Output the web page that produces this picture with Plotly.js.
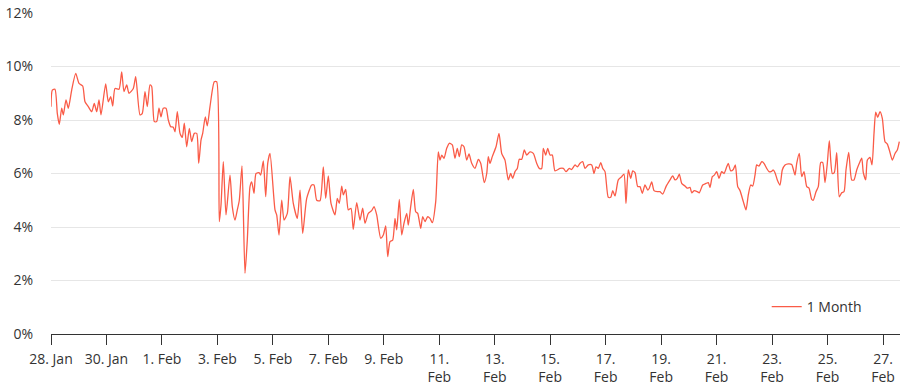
<!DOCTYPE html>
<html>
<head>
<meta charset="utf-8">
<script src="https://cdn.plot.ly/plotly-3.0.1.min.js"></script>
<style>
html,body{margin:0;padding:0;background:#fff;}
#chart{width:904px;height:388px;}
</style>
</head>
<body>
<div id="chart"></div>
<script>
// Days since 28 Jan 00:00
const dayOffset = [
0,0.047,0.144,0.227,0.299,0.386,0.444,0.541,0.624,0.746,0.891,1.010,1.143,1.226,1.345,1.468,1.561,1.648,1.731,1.803,
1.972,2.066,2.153,2.225,2.308,2.452,2.549,2.632,2.730,2.813,2.968,3.054,3.209,3.292,3.389,3.472,3.570,3.631,3.725,3.811,
3.894,3.966,4.049,4.147,4.230,4.316,4.410,4.471,4.554,4.652,4.734,4.807,4.893,4.987,5.073,5.167,5.254,5.326,5.409,5.470,
5.564,5.636,5.733,5.888,5.975,6.069,6.130,6.213,6.310,6.454,6.537,6.635,6.718,6.790,6.887,6.995,7.078,7.176,7.237,7.320,
7.392,7.500,7.561,7.655,7.742,7.814,7.897,8.077,8.138,8.221,8.319,8.402,8.521,8.618,8.737,8.881,8.979,9.076,9.220,9.400,
9.483,9.581,9.700,9.819,9.905,9.999,10.096,10.240,10.323,10.395,10.482,10.540,10.626,10.720,10.817,10.900,11.023,11.142,11.239,11.322,
11.441,11.564,11.647,11.744,11.888,11.982,12.069,12.141,12.224,12.321,12.404,12.465,12.559,12.646,12.728,12.826,12.884,12.970,13.064,13.150,
13.223,13.331,13.403,13.486,13.583,13.666,13.749,13.872,13.965,14.027,14.088,14.171,14.268,14.362,14.470,14.567,14.650,14.723,14.809,14.892,
14.989,15.072,15.170,15.289,15.408,15.494,15.624,15.711,15.768,15.829,15.912,16.046,16.154,16.251,16.370,16.489,16.576,16.648,16.731,16.814,
16.886,16.973,17.066,17.153,17.272,17.391,17.513,17.607,17.694,17.751,17.838,17.910,17.993,18.076,18.173,18.354,18.473,18.570,18.689,18.776,
18.895,18.978,19.075,19.172,19.255,19.374,19.497,19.580,19.652,19.735,19.822,19.894,19.976,20.095,20.182,20.254,20.337,20.456,20.578,20.661,
20.733,20.816,20.903,20.975,21.058,21.155,21.238,21.321,21.418,21.516,21.573,21.660,21.743,21.862,21.959,22.057,22.176,22.320,22.417,22.500,
22.583,22.655,22.742,22.861,22.944,23.041,23.102,23.196,23.304,23.376,23.499,23.618,23.701,23.762,23.845,23.917,24.004,24.087,24.184,24.267,
24.364,24.422,24.509,24.602,24.675,24.761,24.844,24.963,25.060,25.143,25.230,25.302,25.385,25.446,25.529,25.627,25.709,25.807,25.890,25.962,
26.045,26.106,26.189,26.286,26.369,26.467,26.586,26.708,26.827,26.889,26.982,27.069,27.152,27.249,27.332,27.429,27.487,27.584,27.667,27.754,
27.826,27.909,27.992,28.064,28.172,28.244,28.331,28.425,28.511,28.594,28.666,28.764,28.872,28.955,29.052,29.146,29.233,29.290,29.377,29.435,
29.532,29.604,29.676,29.737,29.809,29.892,29.975,30.072,30.156,30.228,30.336,30.433,30.516,30.588
];
// 1 Month values (%)
const oneMonth = [
8.50,9.12,9.15,8.25,7.84,8.44,8.19,8.75,8.44,9.12,9.74,9.37,9.27,8.68,8.50,8.31,8.62,8.31,8.75,8.19,
9.35,8.68,8.87,8.52,9.18,9.15,9.80,9.06,9.31,9.00,9.18,9.62,8.19,8.25,9.06,8.50,9.31,9.25,7.94,7.94,
8.44,8.12,8.44,8.44,8.00,7.75,7.73,7.56,8.31,7.50,7.35,7.88,7.00,7.69,7.19,7.50,7.50,6.38,7.25,7.50,
8.12,7.78,8.50,9.43,9.43,4.20,4.82,6.44,4.45,5.94,4.76,4.26,4.64,5.00,6.28,2.27,3.51,5.51,5.69,5.26,
6.00,6.03,5.94,6.47,5.13,6.38,6.75,4.64,4.45,3.70,5.00,4.26,4.51,5.88,4.88,4.32,5.38,3.76,5.07,5.57,
5.57,5.00,4.98,6.25,5.07,5.91,4.88,4.45,5.07,4.88,5.53,5.20,5.41,4.64,4.70,3.91,4.91,4.26,4.70,4.14,
4.51,4.61,4.76,4.45,3.58,3.70,4.04,2.89,3.45,3.51,4.32,3.89,5.03,3.70,4.14,4.51,4.07,4.76,5.41,4.57,
4.51,3.95,4.39,4.20,4.39,4.32,4.16,4.95,6.81,6.50,6.69,6.57,6.94,7.13,7.07,6.57,6.94,6.63,7.07,7.00,
6.50,6.73,6.38,6.19,6.53,6.38,5.66,6.00,6.63,6.38,6.63,7.00,7.50,6.75,6.50,5.76,6.00,5.82,6.07,6.19,
6.53,6.53,6.88,6.69,6.81,6.75,6.38,6.19,6.19,6.94,6.69,6.94,6.69,6.69,6.10,6.19,6.19,6.07,6.19,6.15,
6.32,6.25,6.38,6.44,6.19,6.32,6.32,6.00,6.25,6.19,6.41,6.19,6.07,5.11,5.11,5.36,5.16,5.76,5.88,5.98,
4.88,6.13,5.82,6.10,6.03,5.51,5.51,5.26,5.57,5.38,5.45,5.69,5.36,5.32,5.32,5.23,5.51,5.76,5.91,5.76,
5.82,5.98,5.63,5.53,5.45,5.48,5.28,5.36,5.32,5.28,5.57,5.63,5.66,5.48,5.88,5.94,6.07,5.82,6.07,6.00,
6.25,6.38,6.10,6.15,6.32,5.51,5.36,4.95,4.64,5.20,5.57,5.53,5.94,6.32,6.28,6.44,6.38,6.19,6.07,6.07,
6.13,6.03,5.76,5.57,6.13,6.32,6.36,6.34,5.94,6.38,6.75,5.88,6.07,5.51,5.45,5.03,5.00,5.32,5.51,6.41,
6.41,5.66,6.38,7.23,6.00,6.03,6.78,5.13,5.28,5.32,6.13,6.79,5.76,5.76,6.13,6.38,6.57,6.03,5.76,6.50,
6.60,6.32,7.50,8.29,8.10,8.31,8.06,7.19,7.10,6.88,6.50,6.75,6.88,7.19
];
const tickDays = [0,2,4,6,8,10,12,14,16,18,20,22,24,26,28,30];
const tickLabels = ["28. Jan","30. Jan","1. Feb","3. Feb","5. Feb","7. Feb","9. Feb",
  "11.<br>Feb","13.<br>Feb","15.<br>Feb","17.<br>Feb","19.<br>Feb","21.<br>Feb","23.<br>Feb","25.<br>Feb","27.<br>Feb"];
const yTicks = [0,2,4,6,8,10,12];
const yLabels = ["0%","2%","4%","6%","8%","10%","12%"];
const seriesName = "1 Month";

const trace = {
  x: dayOffset, y: oneMonth, type: "scatter", mode: "lines", name: seriesName,
  line: {color: "#fa5b47", width: 1.3, shape: "spline", smoothing: 0.6},
  hoverinfo: "skip"
};
const layout = {
  width: 904, height: 388,
  margin: {l: 51, r: 4, t: 13, b: 54},
  paper_bgcolor: "#fff", plot_bgcolor: "#fff",
  font: {family: "Open Sans, Noto Sans, sans-serif", size: 14, color: "#333"},
  showlegend: true,
  legend: {x: 0.843, y: 0.084, xanchor: "left", yanchor: "middle", bgcolor: "rgba(0,0,0,0)",
    font: {size: 14, color: "#333"}, itemwidth: 30},
  xaxis: {
    range: [0, 30.613], tickmode: "array", tickvals: tickDays, ticktext: tickLabels,
    showgrid: false, zeroline: false, showline: true, linecolor: "#333", linewidth: 1,
    ticks: "outside", ticklen: 10, tickcolor: "#333", tickwidth: 1, ticklabelstandoff: 2,
    tickfont: {size: 14, color: "#333"}, fixedrange: true
  },
  yaxis: {
    range: [0, 12], tickmode: "array", tickvals: yTicks, ticktext: yLabels,
    showgrid: true, gridcolor: "#e6e6e6", gridwidth: 1, zeroline: false, showline: false,
    ticks: "", ticklabelstandoff: 17, tickfont: {size: 14, color: "#333"}, fixedrange: true
  }
};
Plotly.newPlot("chart", [trace], layout, {staticPlot: true, displayModeBar: false});
</script>
</body>
</html>
